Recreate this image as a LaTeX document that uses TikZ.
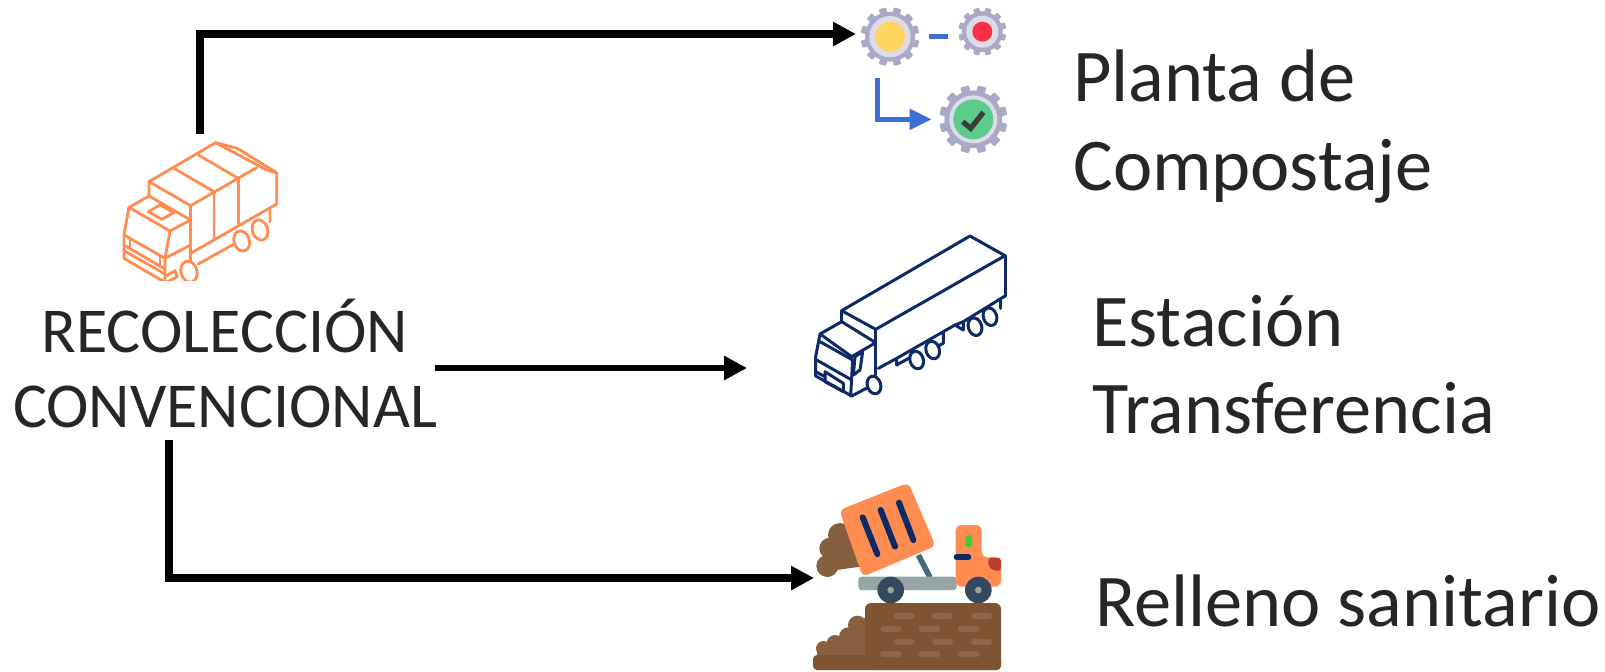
\documentclass[tikz,border=0pt]{standalone}
\usepackage{fontspec}
\setmainfont{Carlito}
\usetikzlibrary{arrows.meta}
\definecolor{ink}{HTML}{262626}
\definecolor{oran}{HTML}{FF8C50}
\definecolor{navy}{HTML}{0B2A66}
\definecolor{gearc}{HTML}{ABA9C8}
\definecolor{ringc}{HTML}{DCDCE8}
\definecolor{yell}{HTML}{FFD55F}
\definecolor{redc}{HTML}{F9304A}
\definecolor{gree}{HTML}{5CCB8B}
\definecolor{bluec}{HTML}{3D6FD9}
\definecolor{soil}{HTML}{85603F}
\definecolor{ground}{HTML}{7F5432}
\definecolor{hill}{HTML}{885F3F}
\definecolor{brick}{HTML}{8E6748}
\definecolor{steel}{HTML}{95A5A6}
\definecolor{tire}{HTML}{35495E}
\definecolor{piston}{HTML}{456A7A}
\definecolor{wind}{HTML}{3FCB3A}
\definecolor{lamp}{HTML}{BE3C2B}
\tikzset{
 flow/.style={line width=4pt,-{Triangle[length=11.5pt,width=11.5pt]},black},
 labbig/.style={font=\fontsize{37.2}{44.5}\selectfont,text=ink,inner sep=0pt,align=left,anchor=north west},
 lableft/.style={font=\fontsize{32}{37.4}\selectfont,text=ink,inner sep=0pt,align=center,anchor=north},
 orangeline/.style={draw=oran,line width=1.4pt,line join=round,line cap=round},
 navyline/.style={draw=navy,line width=1.5pt,line join=round,line cap=round},
 zoomed/.style={scale=1/3},
}
\newcommand{\gearicon}[6]{% x y R ring inner color
 \fill[gearc] (#1,#2) circle ({0.85*#3});
 \foreach \a in {15,45,...,345}
   \fill[gearc,rounded corners=0.5pt,shift={(#1,#2)},rotate=\a] ({0.7*#3},{-0.13*#3}) rectangle ({#3},{0.13*#3});
 \fill[ringc] (#1,#2) circle (#4);
 \fill[#6] (#1,#2) circle (#5);
}
\newcommand{\pill}[3]{\draw[brick,line width=3pt,line cap=round] (#1,#3) -- (#2,#3);}
\begin{document}
\begin{tikzpicture}[x=0.5pt,y=-0.5pt]
\useasboundingbox (0,0) rectangle (1605,671);
% orange truck
\begin{scope}[shift={(100,120)},zoomed]
 \clip (40,40) rectangle (560,482);
 \draw[orangeline] (147,185)--(347,68)--(412,85)--(530,158)--(530,252)--(272,400);
 \draw[orangeline] (347,68)--(500,150)--(530,158);
 \draw[orangeline] (147,185)--(272,257)--(470,143);
 \draw[orangeline] (222,145)--(342,215) (295,105)--(415,175);
 \draw[orangeline] (342,215)--(342,355) (415,175)--(415,312);
 \draw[orangeline] (147,185)--(147,228)--(87,262)--(210,333)--(272,300);
 \draw[orangeline] (147,228)--(272,300);
 \draw[orangeline] (272,257)--(272,430);
 \draw[orangeline] (87,262)--(72,345)--(72,415)--(195,487);
 \draw[orangeline] (210,333)--(195,415)--(195,487);
 \draw[orangeline] (195,415)--(272,375);
 \draw[orangeline] (72,345)--(195,415) (75,377)--(195,447) (72,392)--(195,462);
 \draw[orangeline] (90,357)--(90,388) (180,407)--(180,440);
 \draw[orangeline] (145,275)--(180,255)--(222,278)--(185,298)--cycle;
 \draw[orangeline] (195,470)--(225,452)--(232,470)--(200,487);
 \draw[orangeline] (295,432)--(402,372) (510,270)--(510,305);
 \draw[orangeline,fill=white] (267,455) ellipse [x radius=24,y radius=32,rotate=15];
 \draw[orangeline,fill=white] (425,363) ellipse [x radius=23,y radius=31,rotate=18];
 \draw[orangeline,fill=white] (480,330) ellipse [x radius=23,y radius=31,rotate=18];
\end{scope}
% gears
\begin{scope}[shift={(820,0)},zoomed]
 \gearicon{210}{110}{88}{62}{45}{yell}
 \gearicon{487}{95}{72}{48}{30}{redc}
 \gearicon{460}{358}{102}{72}{60}{gree}
 \draw[ink!90,line width=2.6pt,line join=miter] (428,365)--(452,385)--(490,337);
 \draw[bluec,line width=2.4pt] (328,110)--(385,110);
 \draw[bluec,line width=2.4pt,-{Triangle[length=11pt,width=10pt]}] (173,235)--(173,358)--(335,358);
\end{scope}
% navy truck
\begin{scope}[shift={(780,220)},zoomed]
 \draw[navyline] (185,272)--(570,48)--(675,107)--(287,328)--cycle;
 \draw[navyline] (675,107)--(675,228);
 \draw[navyline] (185,272)--(185,305) (287,328)--(287,465);
 \draw[navyline] (120,342)--(185,305)--(287,368)--(215,410)--(120,342);
 \draw[navyline] (120,342)--(107,410)--(107,468)--(215,528)--(287,490);
 \draw[navyline] (120,365)--(218,420) (110,420)--(212,478) (218,420)--(212,528);
 \draw[navyline] (220,465)--(240,450)--(248,395)--(225,410)--cycle;
 \draw[navyline] (295,445)--(350,415)--(350,435)--(395,410) (350,415)--(490,335)--(490,370)--(470,380);
 \draw[navyline] (490,335)--(525,315) (550,305)--(675,228) (525,315)--(550,305)--(550,330)--cycle;
 \draw[navyline] (660,240)--(660,265);
 \draw[navyline] (135,455)--(135,485)--(190,515)--(190,490)--cycle (107,455)--(135,470);
 \foreach \p in {(282,495),(410,420),(458,390),(585,320),(630,290)}
   \draw[navyline,fill=white] \p ellipse [x radius=20,y radius=27,rotate=18];
\end{scope}
% dump truck
\begin{scope}[shift={(780,460)},zoomed]
 \fill[soil] (142,318) circle (33);
 \fill[soil] (150,265) circle (32);
 \fill[soil] (180,225) circle (36);
 \fill[soil] (205,290) circle (32);
 \fill[soil] (135,300)--(150,235)--(180,190)--(240,240)--(240,320)--(170,330)--cycle;
 \draw[piston,line width=2.8pt] (415,285)--(450,352);
 \fill[oran,rounded corners=2.5pt] (178,150)--(385,68)--(467,258)--(248,350)--cycle;
 \draw[navy,line width=3pt,line cap=round] (248,172)--(292,282) (302,150)--(345,260) (357,128)--(400,240);
 \fill[steel,rounded corners=1.5pt] (235,350) rectangle (530,390);
 \fill[oran,rounded corners=3pt] (527,380)--(527,195)--(605,195)--(605,292)--(663,292)--(663,380)--cycle;
 \fill[wind,rounded corners=1.5pt] (556,225) rectangle (576,263);
 \draw[navy,line width=3pt,line cap=round] (530,292)--(565,292);
 \fill[lamp,rounded corners=1.5pt] (625,293)--(663,293)--(663,332)--(640,332)--(625,318)--cycle;
 \foreach \c in {332,595}{
  \fill[tire] (\c,390) circle (40);
  \fill[steel] (\c,390) circle (10);
 }
 \fill[hill] (130,565) circle (22);
 \fill[hill] (165,550) circle (25);
 \fill[hill] (205,530) circle (28);
 \fill[hill] (232,495) circle (28);
 \fill[hill] (110,565) rectangle (255,590);
 \fill[hill] (175,530) rectangle (255,590);
 \fill[hill] (225,475) rectangle (255,590);
 \fill[ground,rounded corners=3pt] (255,600)--(255,429)--(663,429)--(663,630)--(255,630)--cycle;
 \fill[ground,rounded corners=2pt] (99,630)--(99,585)--(663,585)--(663,630)--cycle;
 \pill{350}{395}{468}\pill{465}{510}{468}\pill{582}{627}{468}
 \pill{310}{355}{506}\pill{425}{472}{506}\pill{542}{590}{506}
 \pill{350}{395}{545}\pill{465}{510}{545}\pill{582}{627}{545}
 \pill{310}{355}{582}\pill{425}{472}{582}\pill{542}{590}{582}
\end{scope}
% text
\node[lableft] (rec) at (225,299) {RECOLECCIÓN\\CONVENCIONAL};
\node[labbig] (planta) at (1073,49) {Planta de\\Compostaje};
\node[labbig,font=\fontsize{37.2}{43.5}\selectfont] (estacion) at (1092,295) {Estación\\Transferencia};
\node[labbig] (relleno) at (1095,574) {Relleno sanitario};
% connector ends
\coordinate (truckTop) at (200,134);
\coordinate (gearIn) at (856,34);
\coordinate (recRight) at (435,368);
\coordinate (trailerIn) at (747,368);
\coordinate (recBottom) at (169,440);
\coordinate (dumpIn) at (814,578);
\draw[flow] (truckTop) |- (gearIn);
\draw[flow,line width=3.2pt] (recRight) -- (trailerIn);
\draw[flow] (recBottom) |- (dumpIn);
\end{tikzpicture}
\end{document}
